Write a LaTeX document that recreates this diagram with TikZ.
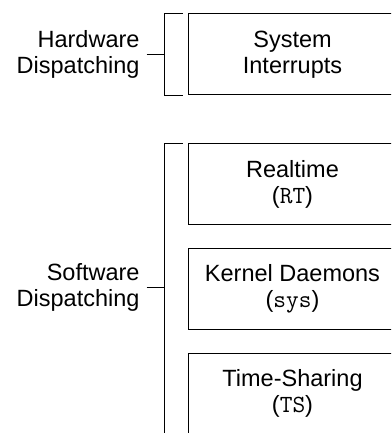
\documentclass[tikz,border=0pt]{standalone}
\usepackage{fontspec}
\setmainfont{Liberation Sans}
\setmonofont[Scale=1.05]{Latin Modern Mono}
\begin{document}
\begin{tikzpicture}[x=1pt,y=1pt,
  line width=1pt,
  txt/.style={font=\fontsize{23.5}{26}\selectfont, inner sep=0pt, align=center},
  classbox/.style={draw, txt, minimum width=207.6pt, minimum height=81pt},
  grouplabel/.style={txt, align=right, anchor=east}]
\useasboundingbox (0,0) rectangle (391,-433);
\clip (0,0) rectangle (391,-433);

% scheduling classes
\node[classbox] (intr) at (292.5,-54.5) {System\\Interrupts};
\node[classbox] (rt)   at (292.5,-184.2) {Realtime\\({\ttfamily RT})};
\node[classbox] (sysd) at (292.5,-288.8) {Kernel Daemons\\({\ttfamily sys})};
\node[classbox] (ts)   at (292.5,-393.6) {Time-Sharing\\({\ttfamily TS})};

% group labels
\node[grouplabel] (hw) at (140,-54.5) {Hardware\\Dispatching};
\node[grouplabel] (sw) at (140,-287.5) {Software\\Dispatching};

% brackets
\coordinate (hwtop) at ([xshift=-5.7pt]intr.north west);
\coordinate (hwbot) at ([xshift=-5.7pt]intr.south west);
\coordinate (hwbar) at (164.5,-54.5);
\draw (hwtop) -- (hwtop -| hwbar) -- (hwbot -| hwbar) -- (hwbot);
\draw ([xshift=6.7pt]hw.east) -- (hwbar);

\coordinate (swtop) at ([xshift=-5.7pt]rt.north west);
\coordinate (swbot) at (183,-440);
\coordinate (swbar) at (164.5,-287.5);
\draw (swtop) -- (swtop -| swbar) -- (swbot -| swbar);
\draw ([xshift=6.7pt]sw.east) -- (swbar);
\end{tikzpicture}
\end{document}
